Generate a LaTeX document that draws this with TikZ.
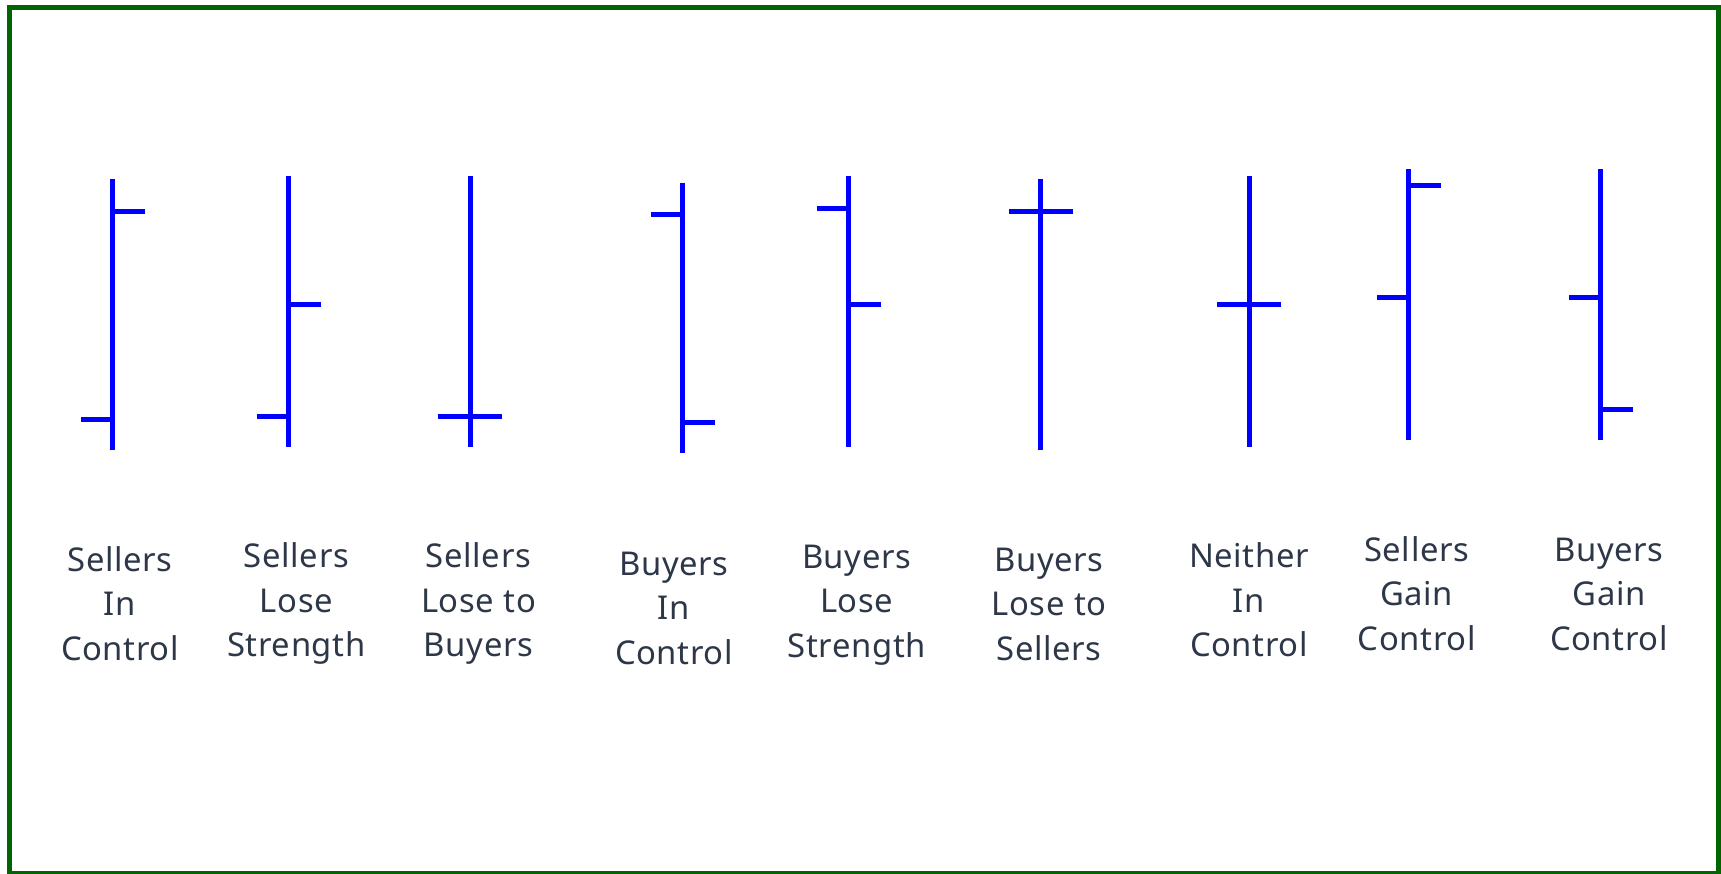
\documentclass[tikz,border=0pt]{standalone}
\usepackage{fontspec}
\setmainfont[LetterSpace=2]{Noto Sans}
\definecolor{txtcol}{RGB}{45,55,72}
\definecolor{framecol}{RGB}{0,100,0}
\newcommand{\threeline}[3]{\vtop{\baselineskip=44.6pt\lineskiplimit=-20pt\halign{\hfil##\hfil\cr#1\cr#2\cr#3\cr}}}
\newcommand{\candle}[5]{%
  \draw[barline] (#1,#2) -- (#1,#3);
  \draw[barline] (#1-32,#4) -- (#1,#4);
  \draw[barline] (#1,#5) -- (#1+32,#5);}
\begin{document}
\begin{tikzpicture}[x=1pt,y=-1pt,
  barline/.style={draw=blue,line width=5pt},
  lbl/.style={anchor=base,inner sep=0pt,text=txtcol,font=\fontsize{32.8}{44.6}\selectfont}]
\useasboundingbox (0,0) rectangle (1721,873);
\fill[white] (0,0) rectangle (1721,873);
\draw[framecol,line width=5pt] (9.3,7.5) rectangle (1718,873.5);
% candles: x, top, bottom, left tick, right tick
\candle{112.7}{179.3}{450}{419}{211}
\candle{288.7}{176}{446.7}{416}{304}
\candle{470}{176}{446.7}{416}{416}
\candle{682.7}{182.7}{453.3}{214.3}{422.3}
\candle{848.7}{176}{446.7}{208}{304}
\candle{1040.7}{179.3}{450}{211}{211}
\candle{1249}{176}{446.7}{304}{304}
\candle{1408.7}{169.3}{440.3}{297.3}{185.3}
\candle{1600.7}{169.3}{440.3}{297.3}{409.3}
% labels
\node[lbl] (l1) at (120,571) {\threeline{Sellers}{In}{Control}};
\node[lbl] (l2) at (296.4,567.5) {\threeline{Sellers}{Lose}{Strength}};
\node[lbl] (l3) at (478.5,567.5) {\threeline{Sellers}{Lose to}{Buyers}};
\node[lbl] (l4) at (674,575) {\threeline{Buyers}{In}{Control}};
\node[lbl] (l5) at (856.7,568) {\threeline{Buyers}{Lose}{Strength}};
\node[lbl] (l6) at (1049,571) {\threeline{Buyers}{Lose to}{Sellers}};
\node[lbl] (l7) at (1249,567.5) {\threeline{Neither}{In}{Control}};
\node[lbl] (l8) at (1416.7,561) {\threeline{Sellers}{Gain}{Control}};
\node[lbl] (l9) at (1609,561) {\threeline{Buyers}{Gain}{Control}};
\end{tikzpicture}
\end{document}
